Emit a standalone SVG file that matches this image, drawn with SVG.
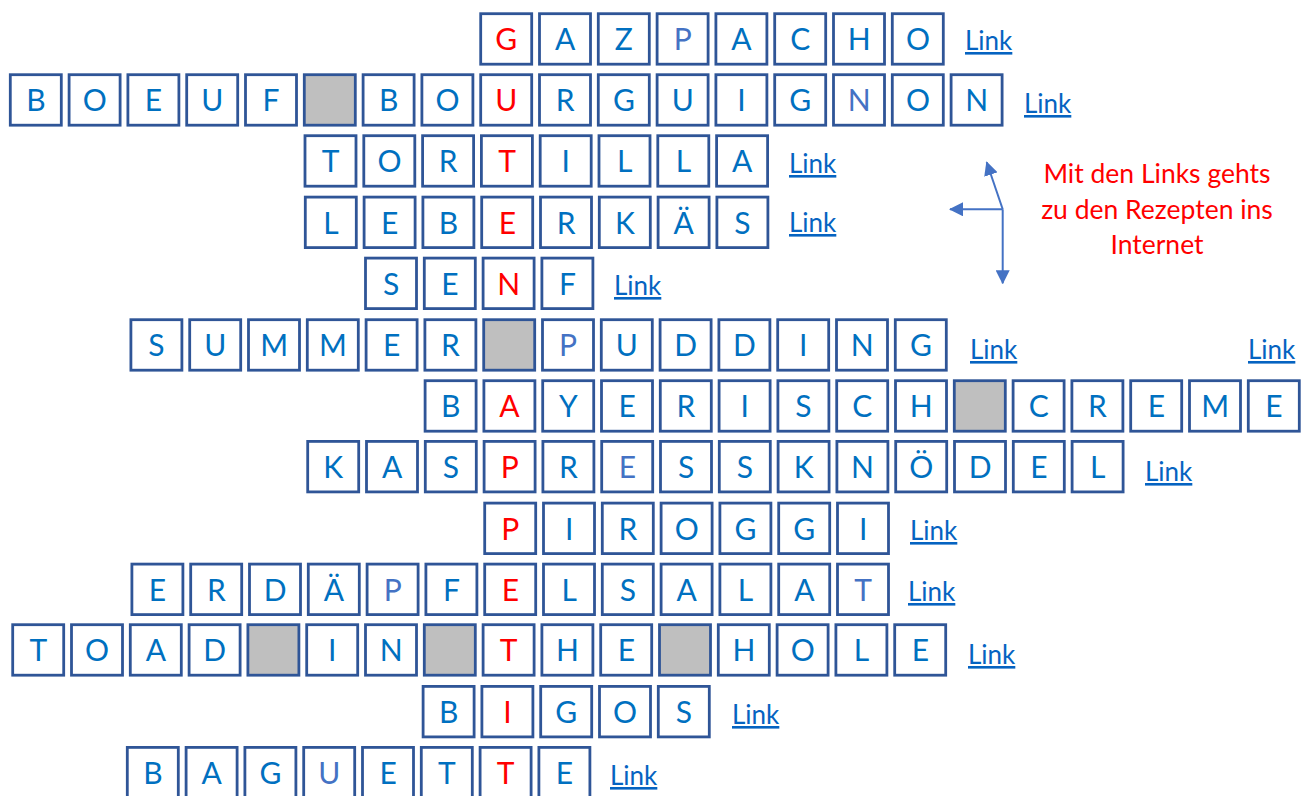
<svg xmlns="http://www.w3.org/2000/svg" xmlns:xlink="http://www.w3.org/1999/xlink" width="1306" height="796" viewBox="0 0 1306 796">
<style>
text{font-family:Lato,"Open Sans","Liberation Sans",sans-serif}
.t,.r,.l{font-size:30px;text-anchor:middle}
.t{fill:#0070C0}
.r{fill:#FF0000}
.l{fill:#4472C4}
.lk{font-size:26px;fill:#0563C1;text-decoration:underline}
.note{font-size:26.5px;fill:#FF0000;text-anchor:middle}
.arr{stroke:#4472C4;stroke-width:2;fill:none}
</style>
<defs>
<rect id="cell" x="1.4" y="1.4" width="51" height="50.5" fill="#FFFFFF" stroke="#2F5597" stroke-width="2.8"/>
<rect id="gcell" x="1.4" y="1.4" width="51" height="50.5" fill="#BFBFBF" stroke="#2F5597" stroke-width="2.8"/>
<marker id="ah" viewBox="0 0 14 14" refX="13" refY="7" markerWidth="14" markerHeight="14" markerUnits="userSpaceOnUse" orient="auto">
<path d="M0,0 L14,7 L0,14 z" fill="#4472C4"/>
</marker>
</defs>
<rect width="1306" height="796" fill="#FFFFFF"/>

<g id="row-gazpacho" transform="translate(8.9,12.3)">
<use href="#cell" x="470.4"/><use href="#cell" x="529.2"/><use href="#cell" x="588"/><use href="#cell" x="646.8"/><use href="#cell" x="705.6"/><use href="#cell" x="764.4"/><use href="#cell" x="823.2"/><use href="#cell" x="882"/>
<text class="r" x="497.4" y="38">G</text><text class="t" x="556.2" y="38">A</text><text class="t" x="615" y="38">Z</text><text class="l" x="673.8" y="38">P</text><text class="t" x="732.6" y="38">A</text><text class="t" x="791.4" y="38">C</text><text class="t" x="850.2" y="38">H</text><text class="t" x="909" y="38">O</text>
</g>

<g id="row-boeuf" transform="translate(8.9,73.3)">
<use href="#cell" x="0"/><use href="#cell" x="58.8"/><use href="#cell" x="117.6"/><use href="#cell" x="176.4"/><use href="#cell" x="235.2"/><use href="#gcell" x="294"/><use href="#cell" x="352.8"/><use href="#cell" x="411.6"/><use href="#cell" x="470.4"/><use href="#cell" x="529.2"/><use href="#cell" x="588"/><use href="#cell" x="646.8"/><use href="#cell" x="705.6"/><use href="#cell" x="764.4"/><use href="#cell" x="823.2"/><use href="#cell" x="882"/><use href="#cell" x="940.8"/>
<text class="t" x="27" y="38">B</text><text class="t" x="85.8" y="38">O</text><text class="t" x="144.6" y="38">E</text><text class="t" x="203.4" y="38">U</text><text class="t" x="262.2" y="38">F</text><text class="t" x="379.8" y="38">B</text><text class="t" x="438.6" y="38">O</text><text class="r" x="497.4" y="38">U</text><text class="t" x="556.2" y="38">R</text><text class="t" x="615" y="38">G</text><text class="t" x="673.8" y="38">U</text><text class="t" x="732.6" y="38">I</text><text class="t" x="791.4" y="38">G</text><text class="l" x="850.2" y="38">N</text><text class="t" x="909" y="38">O</text><text class="t" x="967.8" y="38">N</text>
</g>

<g id="row-tortilla" transform="translate(9.6,134.3)">
<use href="#cell" x="294"/><use href="#cell" x="352.8"/><use href="#cell" x="411.6"/><use href="#cell" x="470.4"/><use href="#cell" x="529.2"/><use href="#cell" x="588"/><use href="#cell" x="646.8"/><use href="#cell" x="705.6"/>
<text class="t" x="321" y="38">T</text><text class="t" x="379.8" y="38">O</text><text class="t" x="438.6" y="38">R</text><text class="r" x="497.4" y="38">T</text><text class="t" x="556.2" y="38">I</text><text class="t" x="615" y="38">L</text><text class="t" x="673.8" y="38">L</text><text class="t" x="732.6" y="38">A</text>
</g>

<g id="row-leberkaes" transform="translate(9.9,195.7)">
<use href="#cell" x="294"/><use href="#cell" x="352.8"/><use href="#cell" x="411.6"/><use href="#cell" x="470.4"/><use href="#cell" x="529.2"/><use href="#cell" x="588"/><use href="#cell" x="646.8"/><use href="#cell" x="705.6"/>
<text class="t" x="321" y="38">L</text><text class="t" x="379.8" y="38">E</text><text class="t" x="438.6" y="38">B</text><text class="r" x="497.4" y="38">E</text><text class="t" x="556.2" y="38">R</text><text class="t" x="615" y="38">K</text><text class="t" x="673.8" y="38">Ä</text><text class="t" x="732.6" y="38">S</text>
</g>

<g id="row-senf" transform="translate(11.3,256.7)">
<use href="#cell" x="352.8"/><use href="#cell" x="411.6"/><use href="#cell" x="470.4"/><use href="#cell" x="529.2"/>
<text class="t" x="379.8" y="38">S</text><text class="t" x="438.6" y="38">E</text><text class="r" x="497.4" y="38">N</text><text class="t" x="556.2" y="38">F</text>
</g>

<g id="row-summer" transform="translate(11.9,318.3)">
<use href="#cell" x="117.6"/><use href="#cell" x="176.4"/><use href="#cell" x="235.2"/><use href="#cell" x="294"/><use href="#cell" x="352.8"/><use href="#cell" x="411.6"/><use href="#gcell" x="470.4"/><use href="#cell" x="529.2"/><use href="#cell" x="588"/><use href="#cell" x="646.8"/><use href="#cell" x="705.6"/><use href="#cell" x="764.4"/><use href="#cell" x="823.2"/><use href="#cell" x="882"/>
<text class="t" x="144.6" y="38">S</text><text class="t" x="203.4" y="38">U</text><text class="t" x="262.2" y="38">M</text><text class="t" x="321" y="38">M</text><text class="t" x="379.8" y="38">E</text><text class="t" x="438.6" y="38">R</text><text class="l" x="556.2" y="38">P</text><text class="t" x="615" y="38">U</text><text class="t" x="673.8" y="38">D</text><text class="t" x="732.6" y="38">D</text><text class="t" x="791.4" y="38">I</text><text class="t" x="850.2" y="38">N</text><text class="t" x="909" y="38">G</text>
</g>

<g id="row-bayerisch" transform="translate(12.1,379.3)">
<use href="#cell" x="411.6"/><use href="#cell" x="470.4"/><use href="#cell" x="529.2"/><use href="#cell" x="588"/><use href="#cell" x="646.8"/><use href="#cell" x="705.6"/><use href="#cell" x="764.4"/><use href="#cell" x="823.2"/><use href="#cell" x="882"/><use href="#gcell" x="940.8"/><use href="#cell" x="999.6"/><use href="#cell" x="1058.4"/><use href="#cell" x="1117.2"/><use href="#cell" x="1176"/><use href="#cell" x="1234.8"/>
<text class="t" x="438.6" y="38">B</text><text class="r" x="497.4" y="38">A</text><text class="t" x="556.2" y="38">Y</text><text class="t" x="615" y="38">E</text><text class="t" x="673.8" y="38">R</text><text class="t" x="732.6" y="38">I</text><text class="t" x="791.4" y="38">S</text><text class="t" x="850.2" y="38">C</text><text class="t" x="909" y="38">H</text><text class="t" x="1026.6" y="38">C</text><text class="t" x="1085.4" y="38">R</text><text class="t" x="1144.2" y="38">E</text><text class="t" x="1203" y="38">M</text><text class="t" x="1261.8" y="38">E</text>
</g>

<g id="row-kaspressknoedel" transform="translate(12.3,440)">
<use href="#cell" x="294"/><use href="#cell" x="352.8"/><use href="#cell" x="411.6"/><use href="#cell" x="470.4"/><use href="#cell" x="529.2"/><use href="#cell" x="588"/><use href="#cell" x="646.8"/><use href="#cell" x="705.6"/><use href="#cell" x="764.4"/><use href="#cell" x="823.2"/><use href="#cell" x="882"/><use href="#cell" x="940.8"/><use href="#cell" x="999.6"/><use href="#cell" x="1058.4"/>
<text class="t" x="321" y="38">K</text><text class="t" x="379.8" y="38">A</text><text class="t" x="438.6" y="38">S</text><text class="r" x="497.4" y="38">P</text><text class="t" x="556.2" y="38">R</text><text class="l" x="615" y="38">E</text><text class="t" x="673.8" y="38">S</text><text class="t" x="732.6" y="38">S</text><text class="t" x="791.4" y="38">K</text><text class="t" x="850.2" y="38">N</text><text class="t" x="909" y="38">Ö</text><text class="t" x="967.8" y="38">D</text><text class="t" x="1026.6" y="38">E</text><text class="t" x="1085.4" y="38">L</text>
</g>

<g id="row-piroggi" transform="translate(12.9,501.7)">
<use href="#cell" x="470.4"/><use href="#cell" x="529.2"/><use href="#cell" x="588"/><use href="#cell" x="646.8"/><use href="#cell" x="705.6"/><use href="#cell" x="764.4"/><use href="#cell" x="823.2"/>
<text class="r" x="497.4" y="38">P</text><text class="t" x="556.2" y="38">I</text><text class="t" x="615" y="38">R</text><text class="t" x="673.8" y="38">O</text><text class="t" x="732.6" y="38">G</text><text class="t" x="791.4" y="38">G</text><text class="t" x="850.2" y="38">I</text>
</g>

<g id="row-erdaepfelsalat" transform="translate(12.9,562.7)">
<use href="#cell" x="117.6"/><use href="#cell" x="176.4"/><use href="#cell" x="235.2"/><use href="#cell" x="294"/><use href="#cell" x="352.8"/><use href="#cell" x="411.6"/><use href="#cell" x="470.4"/><use href="#cell" x="529.2"/><use href="#cell" x="588"/><use href="#cell" x="646.8"/><use href="#cell" x="705.6"/><use href="#cell" x="764.4"/><use href="#cell" x="823.2"/>
<text class="t" x="144.6" y="38">E</text><text class="t" x="203.4" y="38">R</text><text class="t" x="262.2" y="38">D</text><text class="t" x="321" y="38">Ä</text><text class="l" x="379.8" y="38">P</text><text class="t" x="438.6" y="38">F</text><text class="r" x="497.4" y="38">E</text><text class="t" x="556.2" y="38">L</text><text class="t" x="615" y="38">S</text><text class="t" x="673.8" y="38">A</text><text class="t" x="732.6" y="38">L</text><text class="t" x="791.4" y="38">A</text><text class="l" x="850.2" y="38">T</text>
</g>

<g id="row-toad" transform="translate(11.3,623.3)">
<use href="#cell" x="0"/><use href="#cell" x="58.8"/><use href="#cell" x="117.6"/><use href="#cell" x="176.4"/><use href="#gcell" x="235.2"/><use href="#cell" x="294"/><use href="#cell" x="352.8"/><use href="#gcell" x="411.6"/><use href="#cell" x="470.4"/><use href="#cell" x="529.2"/><use href="#cell" x="588"/><use href="#gcell" x="646.8"/><use href="#cell" x="705.6"/><use href="#cell" x="764.4"/><use href="#cell" x="823.2"/><use href="#cell" x="882"/>
<text class="t" x="27" y="38">T</text><text class="t" x="85.8" y="38">O</text><text class="t" x="144.6" y="38">A</text><text class="t" x="203.4" y="38">D</text><text class="t" x="321" y="38">I</text><text class="t" x="379.8" y="38">N</text><text class="r" x="497.4" y="38">T</text><text class="t" x="556.2" y="38">H</text><text class="t" x="615" y="38">E</text><text class="t" x="732.6" y="38">H</text><text class="t" x="791.4" y="38">O</text><text class="t" x="850.2" y="38">L</text><text class="t" x="909" y="38">E</text>
</g>

<g id="row-bigos" transform="translate(10.1,685)">
<use href="#cell" x="411.6"/><use href="#cell" x="470.4"/><use href="#cell" x="529.2"/><use href="#cell" x="588"/><use href="#cell" x="646.8"/>
<text class="t" x="438.6" y="38">B</text><text class="r" x="497.4" y="38">I</text><text class="t" x="556.2" y="38">G</text><text class="t" x="615" y="38">O</text><text class="t" x="673.8" y="38">S</text>
</g>

<g id="row-baguette" transform="translate(8.3,746)">
<use href="#cell" x="117.6"/><use href="#cell" x="176.4"/><use href="#cell" x="235.2"/><use href="#cell" x="294"/><use href="#cell" x="352.8"/><use href="#cell" x="411.6"/><use href="#cell" x="470.4"/><use href="#cell" x="529.2"/>
<text class="t" x="144.6" y="38">B</text><text class="t" x="203.4" y="38">A</text><text class="t" x="262.2" y="38">G</text><text class="l" x="321" y="38">U</text><text class="t" x="379.8" y="38">E</text><text class="t" x="438.6" y="38">T</text><text class="r" x="497.4" y="38">T</text><text class="t" x="556.2" y="38">E</text>
</g>

<g id="links">
<text class="lk" x="965" y="50">Link</text>
<text class="lk" x="1024" y="113">Link</text>
<text class="lk" x="789" y="173">Link</text>
<text class="lk" x="789" y="232">Link</text>
<text class="lk" x="614" y="295">Link</text>
<text class="lk" x="970" y="359">Link</text>
<text class="lk" x="1248" y="359">Link</text>
<text class="lk" x="1145" y="481">Link</text>
<text class="lk" x="910" y="540">Link</text>
<text class="lk" x="908" y="601">Link</text>
<text class="lk" x="968" y="664">Link</text>
<text class="lk" x="732" y="724">Link</text>
<text class="lk" x="610" y="785">Link</text>
</g>

<g id="note">
<text class="note" x="1157" y="183">Mit den Links gehts</text>
<text class="note" x="1157" y="218.5">zu den Rezepten ins</text>
<text class="note" x="1157" y="253.5">Internet</text>
</g>

<g id="connectors">
<line class="arr" x1="1002.7" y1="209.3" x2="986.7" y2="162.3" marker-end="url(#ah)"/>
<line class="arr" x1="1002.7" y1="209.3" x2="950" y2="209.3" marker-end="url(#ah)"/>
<line class="arr" x1="1002.7" y1="209.3" x2="1002.7" y2="283.3" marker-end="url(#ah)"/>
</g>
</svg>
